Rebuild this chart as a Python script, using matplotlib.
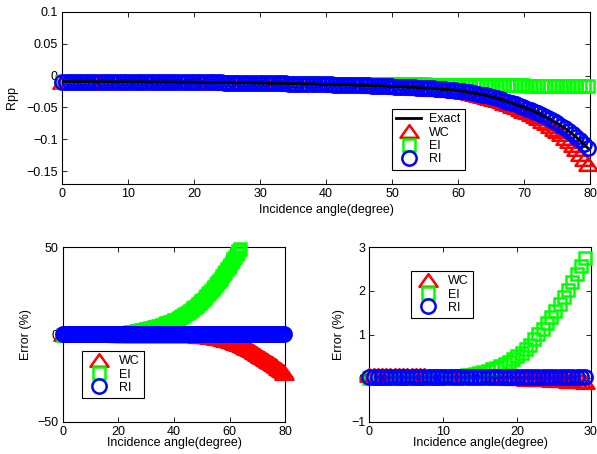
import numpy as np
import matplotlib.pyplot as plt
from matplotlib.markers import MarkerStyle
from matplotlib.path import Path

plt.rcParams['font.family'] = ['Liberation Sans', 'DejaVu Sans']

# incidence angle, sampled every 0.01 rad (shown in degrees)
incidence = np.degrees(np.arange(140) * 0.01)
n_zoom = 52  # the zoomed error panel only goes up to 0.51 rad

rpp_exact = [
    -0.0095, -0.0095, -0.0095, -0.0095, -0.0095, -0.0095, -0.0095, -0.0096, -0.0096, -0.0096,
    -0.0096, -0.0096, -0.0097, -0.0097, -0.0097, -0.0097, -0.0097, -0.0098, -0.0098, -0.0098,
    -0.0099, -0.0099, -0.0099, -0.0100, -0.0100, -0.0100, -0.0101, -0.0101, -0.0102, -0.0102,
    -0.0103, -0.0103, -0.0104, -0.0104, -0.0104, -0.0105, -0.0106, -0.0106, -0.0107, -0.0107,
    -0.0108, -0.0108, -0.0109, -0.0110, -0.0111, -0.0111, -0.0112, -0.0113, -0.0113, -0.0114,
    -0.0115, -0.0116, -0.0117, -0.0118, -0.0119, -0.0120, -0.0121, -0.0122, -0.0123, -0.0124,
    -0.0126, -0.0127, -0.0128, -0.0129, -0.0130, -0.0131, -0.0133, -0.0134, -0.0136, -0.0137,
    -0.0138, -0.0140, -0.0142, -0.0143, -0.0144, -0.0146, -0.0147, -0.0149, -0.0151, -0.0153,
    -0.0154, -0.0156, -0.0159, -0.0161, -0.0162, -0.0165, -0.0167, -0.0170, -0.0172, -0.0175,
    -0.0177, -0.0180, -0.0183, -0.0186, -0.0189, -0.0193, -0.0196, -0.0200, -0.0203, -0.0207,
    -0.0211, -0.0215, -0.0220, -0.0225, -0.0231, -0.0238, -0.0246, -0.0255, -0.0264, -0.0275,
    -0.0285, -0.0298, -0.0311, -0.0326, -0.0341, -0.0357, -0.0374, -0.0392, -0.0412, -0.0431,
    -0.0452, -0.0473, -0.0494, -0.0517, -0.0540, -0.0566, -0.0593, -0.0622, -0.0652, -0.0683,
    -0.0717, -0.0752, -0.0789, -0.0829, -0.0872, -0.0918, -0.0967, -0.1019, -0.1075, -0.1135,
]

rpp_wc = [
    -0.0095, -0.0095, -0.0095, -0.0095, -0.0095, -0.0095, -0.0095, -0.0096, -0.0096, -0.0096,
    -0.0096, -0.0096, -0.0097, -0.0097, -0.0097, -0.0097, -0.0097, -0.0098, -0.0098, -0.0098,
    -0.0099, -0.0099, -0.0099, -0.0100, -0.0100, -0.0100, -0.0101, -0.0101, -0.0102, -0.0102,
    -0.0103, -0.0103, -0.0104, -0.0104, -0.0104, -0.0105, -0.0106, -0.0106, -0.0107, -0.0107,
    -0.0108, -0.0108, -0.0109, -0.0110, -0.0111, -0.0111, -0.0112, -0.0113, -0.0113, -0.0114,
    -0.0115, -0.0116, -0.0117, -0.0118, -0.0119, -0.0120, -0.0121, -0.0122, -0.0123, -0.0124,
    -0.0126, -0.0127, -0.0128, -0.0129, -0.0130, -0.0131, -0.0133, -0.0134, -0.0136, -0.0137,
    -0.0138, -0.0140, -0.0142, -0.0143, -0.0144, -0.0146, -0.0148, -0.0150, -0.0152, -0.0154,
    -0.0155, -0.0157, -0.0160, -0.0162, -0.0163, -0.0166, -0.0168, -0.0171, -0.0173, -0.0177,
    -0.0179, -0.0182, -0.0185, -0.0188, -0.0192, -0.0196, -0.0199, -0.0204, -0.0207, -0.0212,
    -0.0216, -0.0221, -0.0226, -0.0232, -0.0239, -0.0247, -0.0256, -0.0266, -0.0276, -0.0289,
    -0.0300, -0.0315, -0.0330, -0.0347, -0.0365, -0.0384, -0.0404, -0.0425, -0.0449, -0.0472,
    -0.0497, -0.0523, -0.0549, -0.0578, -0.0606, -0.0639, -0.0673, -0.0709, -0.0748, -0.0787,
    -0.0831, -0.0876, -0.0924, -0.0976, -0.1032, -0.1092, -0.1156, -0.1225, -0.1301, -0.1385,
]

rpp_ei = [
    -0.0095, -0.0095, -0.0095, -0.0095, -0.0095, -0.0095, -0.0095, -0.0096, -0.0096, -0.0096,
    -0.0096, -0.0096, -0.0097, -0.0097, -0.0097, -0.0097, -0.0097, -0.0098, -0.0098, -0.0098,
    -0.0099, -0.0099, -0.0099, -0.0100, -0.0100, -0.0100, -0.0101, -0.0101, -0.0102, -0.0102,
    -0.0103, -0.0103, -0.0104, -0.0104, -0.0104, -0.0104, -0.0105, -0.0105, -0.0106, -0.0106,
    -0.0107, -0.0107, -0.0108, -0.0108, -0.0109, -0.0109, -0.0110, -0.0111, -0.0111, -0.0111,
    -0.0112, -0.0113, -0.0114, -0.0114, -0.0115, -0.0116, -0.0116, -0.0117, -0.0118, -0.0118,
    -0.0120, -0.0121, -0.0121, -0.0122, -0.0122, -0.0123, -0.0124, -0.0125, -0.0126, -0.0126,
    -0.0127, -0.0128, -0.0129, -0.0129, -0.0129, -0.0130, -0.0131, -0.0131, -0.0132, -0.0133,
    -0.0133, -0.0134, -0.0135, -0.0136, -0.0136, -0.0136, -0.0136, -0.0137, -0.0137, -0.0138,
    -0.0138, -0.0139, -0.0139, -0.0139, -0.0140, -0.0140, -0.0140, -0.0141, -0.0141, -0.0141,
    -0.0141, -0.0141, -0.0141, -0.0141, -0.0142, -0.0142, -0.0144, -0.0145, -0.0146, -0.0148,
    -0.0149, -0.0151, -0.0152, -0.0153, -0.0153, -0.0154, -0.0154, -0.0155, -0.0155, -0.0155,
    -0.0156, -0.0156, -0.0156, -0.0157, -0.0157, -0.0157, -0.0158, -0.0158, -0.0158, -0.0158,
    -0.0159, -0.0159, -0.0159, -0.0159, -0.0160, -0.0160, -0.0160, -0.0160, -0.0160, -0.0160,
]

rpp_ri = [
    -0.0095, -0.0095, -0.0095, -0.0095, -0.0095, -0.0095, -0.0095, -0.0096, -0.0096, -0.0096,
    -0.0096, -0.0096, -0.0097, -0.0097, -0.0097, -0.0097, -0.0097, -0.0098, -0.0098, -0.0098,
    -0.0099, -0.0099, -0.0099, -0.0100, -0.0100, -0.0100, -0.0101, -0.0101, -0.0102, -0.0102,
    -0.0103, -0.0103, -0.0104, -0.0104, -0.0104, -0.0105, -0.0106, -0.0106, -0.0107, -0.0107,
    -0.0108, -0.0108, -0.0109, -0.0110, -0.0111, -0.0111, -0.0112, -0.0113, -0.0113, -0.0114,
    -0.0115, -0.0116, -0.0117, -0.0118, -0.0119, -0.0120, -0.0121, -0.0122, -0.0123, -0.0124,
    -0.0126, -0.0127, -0.0128, -0.0129, -0.0130, -0.0131, -0.0133, -0.0134, -0.0136, -0.0137,
    -0.0138, -0.0140, -0.0142, -0.0143, -0.0144, -0.0146, -0.0147, -0.0149, -0.0151, -0.0153,
    -0.0154, -0.0156, -0.0159, -0.0161, -0.0162, -0.0165, -0.0167, -0.0170, -0.0172, -0.0175,
    -0.0177, -0.0180, -0.0183, -0.0186, -0.0189, -0.0193, -0.0196, -0.0200, -0.0203, -0.0207,
    -0.0211, -0.0215, -0.0220, -0.0225, -0.0231, -0.0238, -0.0246, -0.0255, -0.0264, -0.0275,
    -0.0285, -0.0298, -0.0311, -0.0326, -0.0341, -0.0357, -0.0374, -0.0392, -0.0412, -0.0431,
    -0.0452, -0.0473, -0.0494, -0.0517, -0.0540, -0.0566, -0.0593, -0.0622, -0.0651, -0.0682,
    -0.0716, -0.0751, -0.0788, -0.0828, -0.0871, -0.0917, -0.0965, -0.1017, -0.1073, -0.1133,
]

# relative errors (%) against the exact Rpp
err_wc = [
    0.07, 0.07, 0.07, 0.07, 0.07, 0.07, 0.07, 0.07, 0.07, 0.07,
    0.07, 0.07, 0.07, 0.07, 0.06, 0.06, 0.06, 0.06, 0.06, 0.06,
    0.05, 0.05, 0.05, 0.05, 0.04, 0.04, 0.04, 0.03, 0.03, 0.03,
    0.02, 0.02, 0.02, 0.01, 0.01, 0.00, 0.00, -0.01, -0.01, -0.02,
    -0.02, -0.03, -0.03, -0.04, -0.04, -0.05, -0.05, -0.06, -0.06, -0.07,
    -0.07, -0.08, -0.08, -0.09, -0.10, -0.11, -0.12, -0.12, -0.13, -0.14,
    -0.15, -0.16, -0.17, -0.18, -0.19, -0.20, -0.21, -0.22, -0.23, -0.25,
    -0.26, -0.27, -0.29, -0.30, -0.32, -0.33, -0.35, -0.37, -0.39, -0.41,
    -0.44, -0.47, -0.50, -0.54, -0.58, -0.62, -0.67, -0.73, -0.80, -0.88,
    -0.97, -1.07, -1.18, -1.30, -1.43, -1.57, -1.72, -1.88, -2.05, -2.23,
    -2.43, -2.65, -2.88, -3.12, -3.38, -3.65, -3.94, -4.25, -4.58, -4.93,
    -5.30, -5.69, -6.10, -6.53, -6.98, -7.45, -7.94, -8.45, -8.98, -9.53,
    -10.05, -10.60, -11.15, -11.72, -12.30, -12.88, -13.47, -14.06, -14.66, -15.26,
    -15.87, -16.48, -17.09, -17.70, -18.31, -18.92, -19.53, -20.20, -21.00, -22.00,
]

err_ei = [
    0.00, 0.00, 0.00, 0.00, 0.00, 0.00, 0.00, 0.00, 0.00, 0.00,
    0.00, 0.00, 0.00, 0.00, 0.01, 0.01, 0.01, 0.02, 0.03, 0.03,
    0.04, 0.05, 0.06, 0.07, 0.08, 0.10, 0.12, 0.14, 0.17, 0.20,
    0.24, 0.28, 0.33, 0.38, 0.44, 0.51, 0.58, 0.67, 0.77, 0.89,
    1.01, 1.13, 1.26, 1.40, 1.55, 1.71, 1.87, 2.03, 2.20, 2.38,
    2.57, 2.76, 2.96, 3.16, 3.37, 3.59, 3.82, 4.06, 4.30, 4.56,
    4.83, 5.11, 5.40, 5.70, 6.01, 6.33, 6.67, 7.02, 7.38, 7.75,
    8.14, 8.60, 9.08, 9.58, 10.10, 10.64, 11.20, 11.78, 12.38, 13.00,
    13.64, 14.34, 15.07, 15.83, 16.62, 17.44, 18.29, 19.17, 20.08, 21.02,
    21.99, 22.99, 24.02, 25.08, 26.17, 27.29, 28.44, 29.62, 30.83, 32.07,
    33.34, 34.64, 35.97, 37.33, 38.72, 40.14, 41.59, 43.07, 44.58, 46.12,
    47.69, 49.29, 51.10, 53.10, 55.10, 56.90, 58.80, 60.50, 62.40, 64.00,
    65.50, 67.00, 68.40, 69.60, 70.90, 72.30, 73.40, 74.60, 75.80, 76.90,
    77.80, 78.90, 79.80, 80.80, 81.70, 82.60, 83.50, 84.30, 85.10, 85.90,
]

err_ri = [
    0.03, 0.03, 0.03, 0.03, 0.03, 0.03, 0.03, 0.03, 0.03, 0.03,
    0.03, 0.03, 0.03, 0.03, 0.03, 0.03, 0.03, 0.03, 0.03, 0.03,
    0.03, 0.03, 0.03, 0.03, 0.03, 0.03, 0.03, 0.03, 0.03, 0.03,
    0.03, 0.03, 0.03, 0.03, 0.03, 0.03, 0.03, 0.03, 0.03, 0.03,
    0.03, 0.03, 0.03, 0.03, 0.03, 0.03, 0.03, 0.03, 0.03, 0.03,
    0.03, 0.03, 0.03, 0.03, 0.03, 0.03, 0.03, 0.03, 0.03, 0.03,
    0.03, 0.03, 0.03, 0.03, 0.03, 0.03, 0.03, 0.03, 0.03, 0.03,
    0.03, 0.03, 0.03, 0.03, 0.03, 0.03, 0.03, 0.03, 0.03, 0.03,
    0.03, 0.03, 0.03, 0.03, 0.03, 0.03, 0.03, 0.03, 0.03, 0.03,
    0.03, 0.03, 0.03, 0.03, 0.03, 0.03, 0.03, 0.03, 0.03, 0.03,
    0.03, 0.03, 0.03, 0.03, 0.03, 0.03, 0.03, 0.03, 0.03, 0.03,
    0.04, 0.04, 0.04, 0.04, 0.04, 0.04, 0.04, 0.04, 0.04, 0.04,
    0.05, 0.05, 0.06, 0.06, 0.07, 0.07, 0.08, 0.08, 0.09, 0.09,
    0.10, 0.11, 0.12, 0.13, 0.14, 0.15, 0.16, 0.17, 0.18, 0.20,
]

top_yticks = [-0.15, -0.1, -0.05, 0, 0.05, 0.1]
top_yticklabels = ['\u22120.15', '\u22120.1', '\u22120.05', '0', '0.05', '0.1']

# matlab-like hollow markers
tri_path = Path([(0, 0.7), (-1, -0.7), (1, -0.7), (0, 0.7)], closed=True)
wc_style = dict(marker=MarkerStyle(tri_path, joinstyle='miter'), ms=13, mec='#ff0000')
ei_style = dict(marker=MarkerStyle('s', joinstyle='miter'), ms=8.2, mec='#00ff00')
ri_style = dict(marker='o', ms=10.3, mec='#0000ff')


def draw(ax, x, y, xlim, ylim, label, style):
    # like matlab: points outside the axes are dropped, the rest drawn whole
    x = np.asarray(x)
    y = np.asarray(y)
    keep = (x >= xlim[0]) & (x <= xlim[1]) & (y >= ylim[0]) & (y <= ylim[1])
    return ax.plot(x[keep], y[keep], linestyle='none', mfc='none', mew=1.8,
                   clip_on=False, zorder=3, label=label, **style)[0]


def setup(ax, xlim, ylim, xticks, yticks, ylabel, xpad):
    ax.set_xlim(xlim)
    ax.set_ylim(ylim)
    ax.set_xticks(xticks)
    ax.set_yticks(yticks)
    ax.tick_params(direction='in', top=True, right=True, length=3.5, width=0.6,
                   labelsize=9, pad=3)
    for s in ax.spines.values():
        s.set_linewidth(0.8)
    ax.set_xlabel('Incidence angle(degree)', fontsize=9, labelpad=xpad)
    ax.set_ylabel(ylabel, fontsize=9)


def add_legend(ax, handles, anchor):
    leg = ax.legend(handles=handles, loc='upper left', bbox_to_anchor=anchor,
                    bbox_transform=fig.transFigure, borderaxespad=0, fancybox=False,
                    edgecolor='k', framealpha=1, fontsize=9, numpoints=1,
                    handlelength=2.0, handletextpad=0.6, labelspacing=0.1, borderpad=0.35)
    leg.get_frame().set_linewidth(0.8)
    leg.set_zorder(5)


fig = plt.figure(figsize=(5.97, 4.54), dpi=100)

# top: Rpp
ax1 = fig.add_axes([0.1039, 0.5947, 0.8844, 0.3795])
xl, yl = (0, 80), (-0.17, 0.1)
h_wc = draw(ax1, incidence, rpp_wc, xl, yl, 'WC', wc_style)
h_ei = draw(ax1, incidence, rpp_ei, xl, yl, 'EI', ei_style)
h_ri = draw(ax1, incidence, rpp_ri, xl, yl, 'RI', ri_style)
h_ex, = ax1.plot(incidence, rpp_exact, color='k', lw=2.0, zorder=4, label='Exact')
setup(ax1, xl, yl, range(0, 81, 10), top_yticks, 'Rpp', 2.5)
ax1.set_yticklabels(top_yticklabels)
ax1.yaxis.labelpad = 6
add_legend(ax1, [h_ex, h_wc, h_ei, h_ri], (0.6566, 0.7599))

# bottom left: error over the full range
ax2 = fig.add_axes([0.1049, 0.0711, 0.3732, 0.3841])
xl, yl = (0, 80), (-50, 50)
h_wc = draw(ax2, incidence, err_wc, xl, yl, 'WC', wc_style)
h_ei = draw(ax2, incidence, err_ei, xl, yl, 'EI', ei_style)
h_ri = draw(ax2, incidence, err_ri, xl, yl, 'RI', ri_style)
setup(ax2, xl, yl, [0, 20, 40, 60, 80], [-50, 0, 50], 'Error (%)', -0.5)
add_legend(ax2, [h_wc, h_ei, h_ri], (0.1374, 0.2269))

# bottom right: zoom on small angles
ax3 = fig.add_axes([0.6186, 0.0711, 0.3709, 0.3841])
xl, yl = (0, 30), (-1, 3)
h_wc = draw(ax3, incidence[:n_zoom], err_wc[:n_zoom], xl, yl, 'WC', wc_style)
h_ei = draw(ax3, incidence[:n_zoom], err_ei[:n_zoom], xl, yl, 'EI', ei_style)
h_ri = draw(ax3, incidence[:n_zoom], err_ri[:n_zoom], xl, yl, 'RI', ri_style)
setup(ax3, xl, yl, [0, 10, 20, 30], [-1, 0, 1, 2, 3], 'Error (%)', -0.5)
add_legend(ax3, [h_wc, h_ei, h_ri], (0.6884, 0.4031))

fig.savefig('out.png', dpi=100)
